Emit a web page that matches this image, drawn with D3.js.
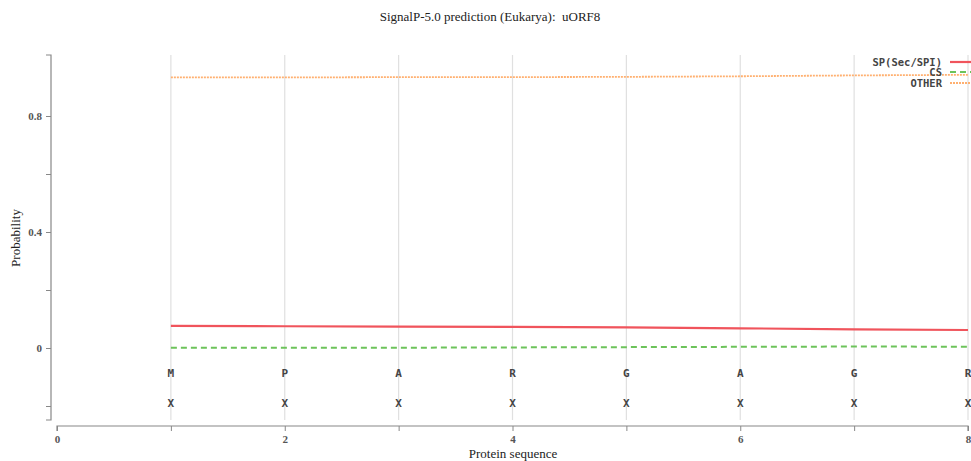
<!DOCTYPE html>
<html><head><meta charset="utf-8">
<script src="https://cdn.jsdelivr.net/npm/d3@7"></script>
<style>body{margin:0;background:#fff}svg{display:block}</style>
</head><body>
<script>
const positions = [1,2,3,4,5,6,7,8];
const residues = ["M","P","A","R","G","A","G","R"];
const regionLabels = ["X","X","X","X","X","X","X","X"];
const spValues = [0.076, 0.075, 0.074, 0.073, 0.071, 0.068, 0.064, 0.062];
const csValues = [0.001, 0.001, 0.001, 0.002, 0.003, 0.004, 0.005, 0.0045];
const otherValues = [0.933, 0.933, 0.934, 0.934, 0.935, 0.937, 0.940, 0.942];
const yTicks = [-0.2, 0, 0.2, 0.4, 0.6, 0.8];
const yTickLabels = {"0":"0","0.4":"0.4","0.8":"0.8"};
const xTicks = [0,1,2,3,4,5,6,7,8];
const seriesNames = ["SP(Sec/SPI)","CS","OTHER"];
const seriesColors = ["#f0545c","#6cc35a","#ffb070"];
const seriesDash = [null,"6,4","2,1"];

const W=971,H=461;
const svg=d3.select("body").append("svg").attr("width",W).attr("height",H);
const x=d3.scaleLinear().domain([0,8]).range([57,968]);
const y=d3.scaleLinear().domain([0,0.8]).range([348,116]);
const yTop=55, yBot=420;

// grid
svg.append("g").selectAll("line").data(positions).join("line")
  .attr("x1",d=>x(d)).attr("x2",d=>x(d)).attr("y1",yTop).attr("y2",yBot)
  .attr("stroke","#e0e0e0").attr("stroke-width",1.2);

// y axis
const yAxis=d3.axisLeft(y).tickValues(yTicks).tickSize(5)
  .tickFormat(d=>yTickLabels[String(+d.toFixed(1))]||"");
const gy=svg.append("g").attr("transform","translate(51,0)").call(yAxis);
gy.select(".domain").attr("d",`M-5,${yTop}H0V${yBot}H-5`).attr("stroke","#888").attr("stroke-width",1.2);
gy.selectAll(".tick line").attr("stroke","#888");
gy.selectAll(".tick text").attr("fill","#555").style("font-family","Liberation Serif, serif").style("font-size","11px").style("font-weight","bold").attr("x",-9);

// x axis
const xAxis=d3.axisBottom(x).tickValues(xTicks).tickSize(5).tickFormat(d=>d%2===0?d:"");
const gx=svg.append("g").attr("transform","translate(0,426)").call(xAxis);
gx.select(".domain").attr("d",`M57,5V0H968V5`).attr("stroke","#888").attr("stroke-width",1.2);
gx.selectAll(".tick line").attr("stroke","#888");
gx.selectAll(".tick text").attr("fill","#555").style("font-family","Liberation Serif, serif").style("font-size","11px").style("font-weight","bold").attr("y",9);

// residue letters
svg.append("g").selectAll("text").data(residues).join("text")
  .attr("x",(d,i)=>x(positions[i])).attr("y",377).attr("text-anchor","middle")
  .style("font-family","DejaVu Sans Mono, monospace").style("font-size","11px").style("font-weight","bold").attr("fill","#444").text(d=>d);
svg.append("g").selectAll("text").data(regionLabels).join("text")
  .attr("x",(d,i)=>x(positions[i])).attr("y",407).attr("text-anchor","middle")
  .style("font-family","DejaVu Sans Mono, monospace").style("font-size","11px").style("font-weight","bold").attr("fill","#444").text(d=>d);

// lines
const allSeries=[spValues,csValues,otherValues];
const line=d3.line().x((d,i)=>x(positions[i])).y(d=>y(d));
[otherValues,csValues,spValues].forEach(vals=>{
  const k=allSeries.indexOf(vals);
  svg.append("path").datum(vals).attr("d",line).attr("fill","none")
    .attr("stroke",seriesColors[k]).attr("stroke-width",k===0?2.2:(k===1?2:1.8))
    .attr("stroke-dasharray",seriesDash[k]);
});

// legend
const legY=[62,72,83];
seriesNames.forEach((n,k)=>{
  svg.append("text").attr("x",942).attr("y",legY[k]+4).attr("text-anchor","end")
    .style("font-family","DejaVu Sans Mono, monospace").style("font-size","10.5px").style("font-weight","bold").attr("fill","#444").text(n);
  svg.append("line").attr("x1",950).attr("x2",975).attr("y1",legY[k]).attr("y2",legY[k])
    .attr("stroke",seriesColors[k]).attr("stroke-width",k===0?2.2:(k===1?2:1.8)).attr("stroke-dasharray",seriesDash[k]);
});

// titles
svg.append("text").attr("x",490).attr("y",21).attr("text-anchor","middle")
  .style("font-family","Liberation Serif, serif").style("font-size","13px").style("white-space","pre").attr("fill","#222")
  .text("SignalP-5.0 prediction (Eukarya):  uORF8");
svg.append("text").attr("x",513).attr("y",458).attr("text-anchor","middle")
  .style("font-family","Liberation Serif, serif").style("font-size","13px").attr("fill","#222")
  .text("Protein sequence");
svg.append("text").attr("transform","translate(20,238) rotate(-90)").attr("text-anchor","middle")
  .style("font-family","Liberation Serif, serif").style("font-size","13px").attr("fill","#222")
  .text("Probability");
</script>
</body></html>
